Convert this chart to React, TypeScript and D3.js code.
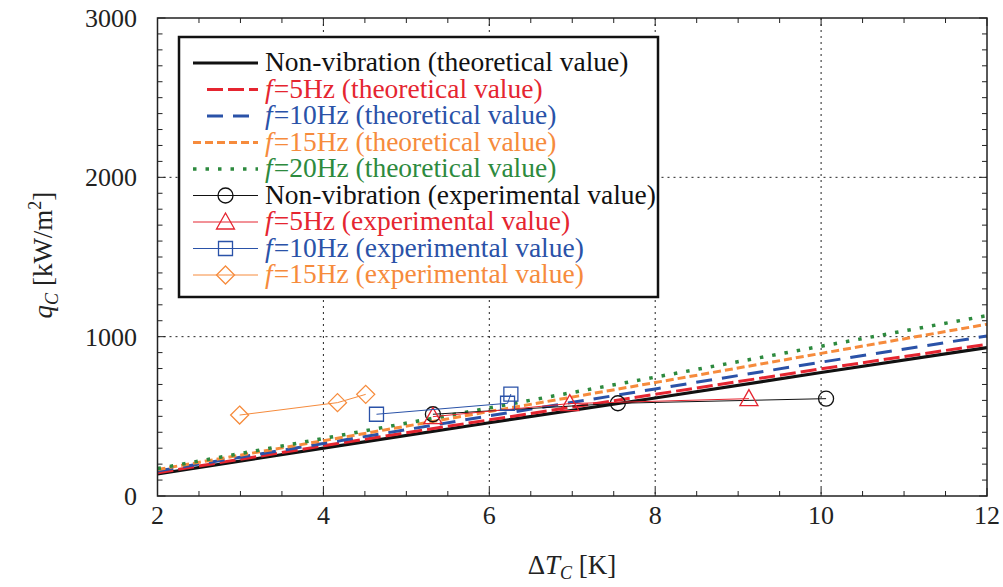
import React from 'react'
import * as d3 from 'd3'

// theoretical curves, sampled at these dT values
const thX = [2, 4, 6, 8, 10, 12]
const thNonVib = [138, 300, 460, 615, 775, 931]
const th5 = [146, 315, 478, 638, 798, 952]
const th10 = [157, 330, 503, 672, 840, 1004]
const th15 = [166, 347, 530, 712, 895, 1078]
const th20 = [172, 361, 553, 746, 940, 1132]

// experimental points [dT, q]
const expNonVib = [[5.32, 513], [7.55, 582], [10.06, 611]]
const exp5 = [[5.32, 498], [6.97, 580], [9.13, 611]]
const exp10 = [[4.64, 513], [6.22, 582], [6.26, 640]]
const exp15 = [[2.99, 508], [4.17, 586], [4.51, 638]]

const xTicks = [2, 4, 6, 8, 10, 12]
const yTicks = [0, 1000, 2000, 3000]

const RED = '#e52530'
const BLUE = '#2a52a8'
const ORANGE = '#f68b3c'
const GREEN = '#2d8a3e'

const W = 1003
const H = 587
const left = 157.5
const right = 987
const top = 18
const bottom = 496

const x = d3.scaleLinear().domain([2, 12]).range([left, right])
const y = d3.scaleLinear().domain([0, 3000]).range([bottom, top])

const font = "'Liberation Serif', 'Times New Roman', serif"

const theory = [
  { vals: thNonVib, color: '#111', dash: null, w: 3.2, label: 'Non-vibration', f: false, x1: 193 },
  { vals: th5, color: RED, dash: '16,5', w: 3, label: '=5Hz', f: true, x1: 207 },
  { vals: th10, color: BLUE, dash: '16,10', w: 3, label: '=10Hz', f: true, x1: 207 },
  { vals: th15, color: ORANGE, dash: '8,4', w: 3, label: '=15Hz', f: true, x1: 193 },
  { vals: th20, color: GREEN, dash: '3.5,9', w: 3.5, label: '=20Hz', f: true, x1: 193 },
]

const experiments = [
  { pts: expNonVib, color: '#111', marker: 'circle', label: 'Non-vibration', f: false },
  { pts: exp5, color: RED, marker: 'triangle', label: '=5Hz', f: true },
  { pts: exp10, color: BLUE, marker: 'square', label: '=10Hz', f: true },
  { pts: exp15, color: ORANGE, marker: 'diamond', label: '=15Hz', f: true },
]

const markerPath = (type: string) => {
  if (type === 'circle') {
    return d3.symbol().type(d3.symbolCircle).size(Math.PI * 7.5 * 7.5)()
  }
  if (type === 'triangle') return 'M0,-9L9,7L-9,7Z'
  if (type === 'square') return 'M-7,-7L7,-7L7,7L-7,7Z'
  return 'M0,-9L9,0L0,9L-9,0Z'
}

const Marker = ({ type, cx, cy, color }: any) => (
  <path
    d={markerPath(type) || ''}
    transform={`translate(${cx},${cy})`}
    fill="none"
    stroke={color}
    strokeWidth={1.3}
  />
)

const Label = ({ s, suffix, yy }: any) => (
  <text x={265} y={yy} fontSize={27.5} fill={s.color} fontFamily={font}>
    {s.f && <tspan fontStyle="italic">f</tspan>}
    <tspan dx={s.f ? 1 : 0}>{s.label} {suffix}</tspan>
  </text>
)

const App = () => {
  const line = d3
    .line<number>()
    .x((d, i) => x(thX[i]))
    .y(d => y(d))
  const expLine = d3
    .line<number[]>()
    .x(d => x(d[0]))
    .y(d => y(d[1]))

  const xMinor = d3.range(2, 12.001, 0.5)
  const yMinor = d3.range(0, 3000.1, 100)

  const legX = 179
  const legY = 37
  const rowY = (i: number) => 63 + i * 26.5
  const sx1 = 193
  const sx2 = 258

  return (
    <svg width={W} height={H} style={{ position: 'absolute', left: 0, top: 0, background: '#fff' }} fontFamily={font}>
      {/* grid */}
      {xTicks.slice(1, -1).map(t => (
        <line key={'gx' + t} x1={x(t)} x2={x(t)} y1={top} y2={bottom} stroke="#222" strokeWidth={1} strokeDasharray="2,4" />
      ))}
      {yTicks.slice(1, -1).map(t => (
        <line key={'gy' + t} x1={left} x2={right} y1={y(t)} y2={y(t)} stroke="#222" strokeWidth={1} strokeDasharray="2,4" />
      ))}

      {/* minor / major ticks, inward on all sides */}
      {xMinor.map(t => {
        const len = xTicks.includes(t) ? 8 : 5
        return (
          <g key={'tx' + t}>
            <line x1={x(t)} x2={x(t)} y1={bottom} y2={bottom - len} stroke="#222" />
            <line x1={x(t)} x2={x(t)} y1={top} y2={top + len} stroke="#222" />
          </g>
        )
      })}
      {yMinor.map(t => {
        const len = yTicks.includes(t) ? 8 : 5
        return (
          <g key={'ty' + t}>
            <line x1={left} x2={left + len} y1={y(t)} y2={y(t)} stroke="#222" />
            <line x1={right} x2={right - len} y1={y(t)} y2={y(t)} stroke="#222" />
          </g>
        )
      })}

      {/* theoretical lines */}
      {theory.map((s, i) => (
        <path
          key={'th' + i}
          d={line(s.vals) || ''}
          fill="none"
          stroke={s.color}
          strokeWidth={s.w}
          strokeDasharray={s.dash || undefined}
        />
      ))}

      {/* experimental lines + markers */}
      {experiments.map((s, i) => (
        <g key={'ex' + i}>
          <path d={expLine(s.pts) || ''} fill="none" stroke={s.color} strokeWidth={1} />
          {s.pts.map((p, j) => (
            <Marker key={j} type={s.marker} cx={x(p[0])} cy={y(p[1])} color={s.color} />
          ))}
        </g>
      ))}

      {/* frame */}
      <rect x={left} y={top} width={right - left} height={bottom - top} fill="none" stroke="#222" strokeWidth={1.5} />

      {/* tick labels */}
      {xTicks.map(t => (
        <text key={'lx' + t} x={x(t)} y={524} fontSize={26} textAnchor="middle" fill="#222" fontFamily={font}>
          {t}
        </text>
      ))}
      {yTicks.map(t => (
        <text key={'ly' + t} x={137} y={y(t) + 9} fontSize={26} textAnchor="end" fill="#222" fontFamily={font}>
          {t}
        </text>
      ))}

      {/* axis titles */}
      <text x={572} y={574} fontSize={27} textAnchor="middle" fill="#222" fontFamily={font}>
        Δ<tspan fontStyle="italic">T</tspan>
        <tspan fontStyle="italic" fontSize={18} dy={5}>C</tspan>
        <tspan dy={-5}> [K]</tspan>
      </text>
      <g transform="translate(52,255) rotate(-90)">
        <text x={0} y={0} fontSize={27} textAnchor="middle" fill="#222" fontFamily={font}>
          <tspan fontStyle="italic">q</tspan>
          <tspan fontStyle="italic" fontSize={18} dy={6}>C</tspan>
          <tspan dy={-6}> [kW/m</tspan>
          <tspan fontSize={18} dy={-11}>2</tspan>
          <tspan dy={11}>]</tspan>
        </text>
      </g>

      {/* legend */}
      <rect x={legX} y={legY} width={658 - legX} height={297 - legY} fill="#fff" stroke="#111" strokeWidth={2.5} />
      {theory.map((s, i) => (
        <g key={'lt' + i}>
          <line
            x1={s.x1}
            x2={sx2}
            y1={rowY(i)}
            y2={rowY(i)}
            stroke={s.color}
            strokeWidth={s.w}
            strokeDasharray={s.dash || undefined}
          />
          <Label s={s} suffix="(theoretical value)" yy={rowY(i) + 8} />
        </g>
      ))}
      {experiments.map((s, i) => {
        const r = rowY(i + 5)
        return (
          <g key={'le' + i}>
            <line x1={sx1} x2={sx2} y1={r} y2={r} stroke={s.color} strokeWidth={1} />
            <Marker type={s.marker} cx={(sx1 + sx2) / 2} cy={r} color={s.color} />
            <Label s={s} suffix="(experimental value)" yy={r + 8} />
          </g>
        )
      })}
    </svg>
  )
}

export default App
